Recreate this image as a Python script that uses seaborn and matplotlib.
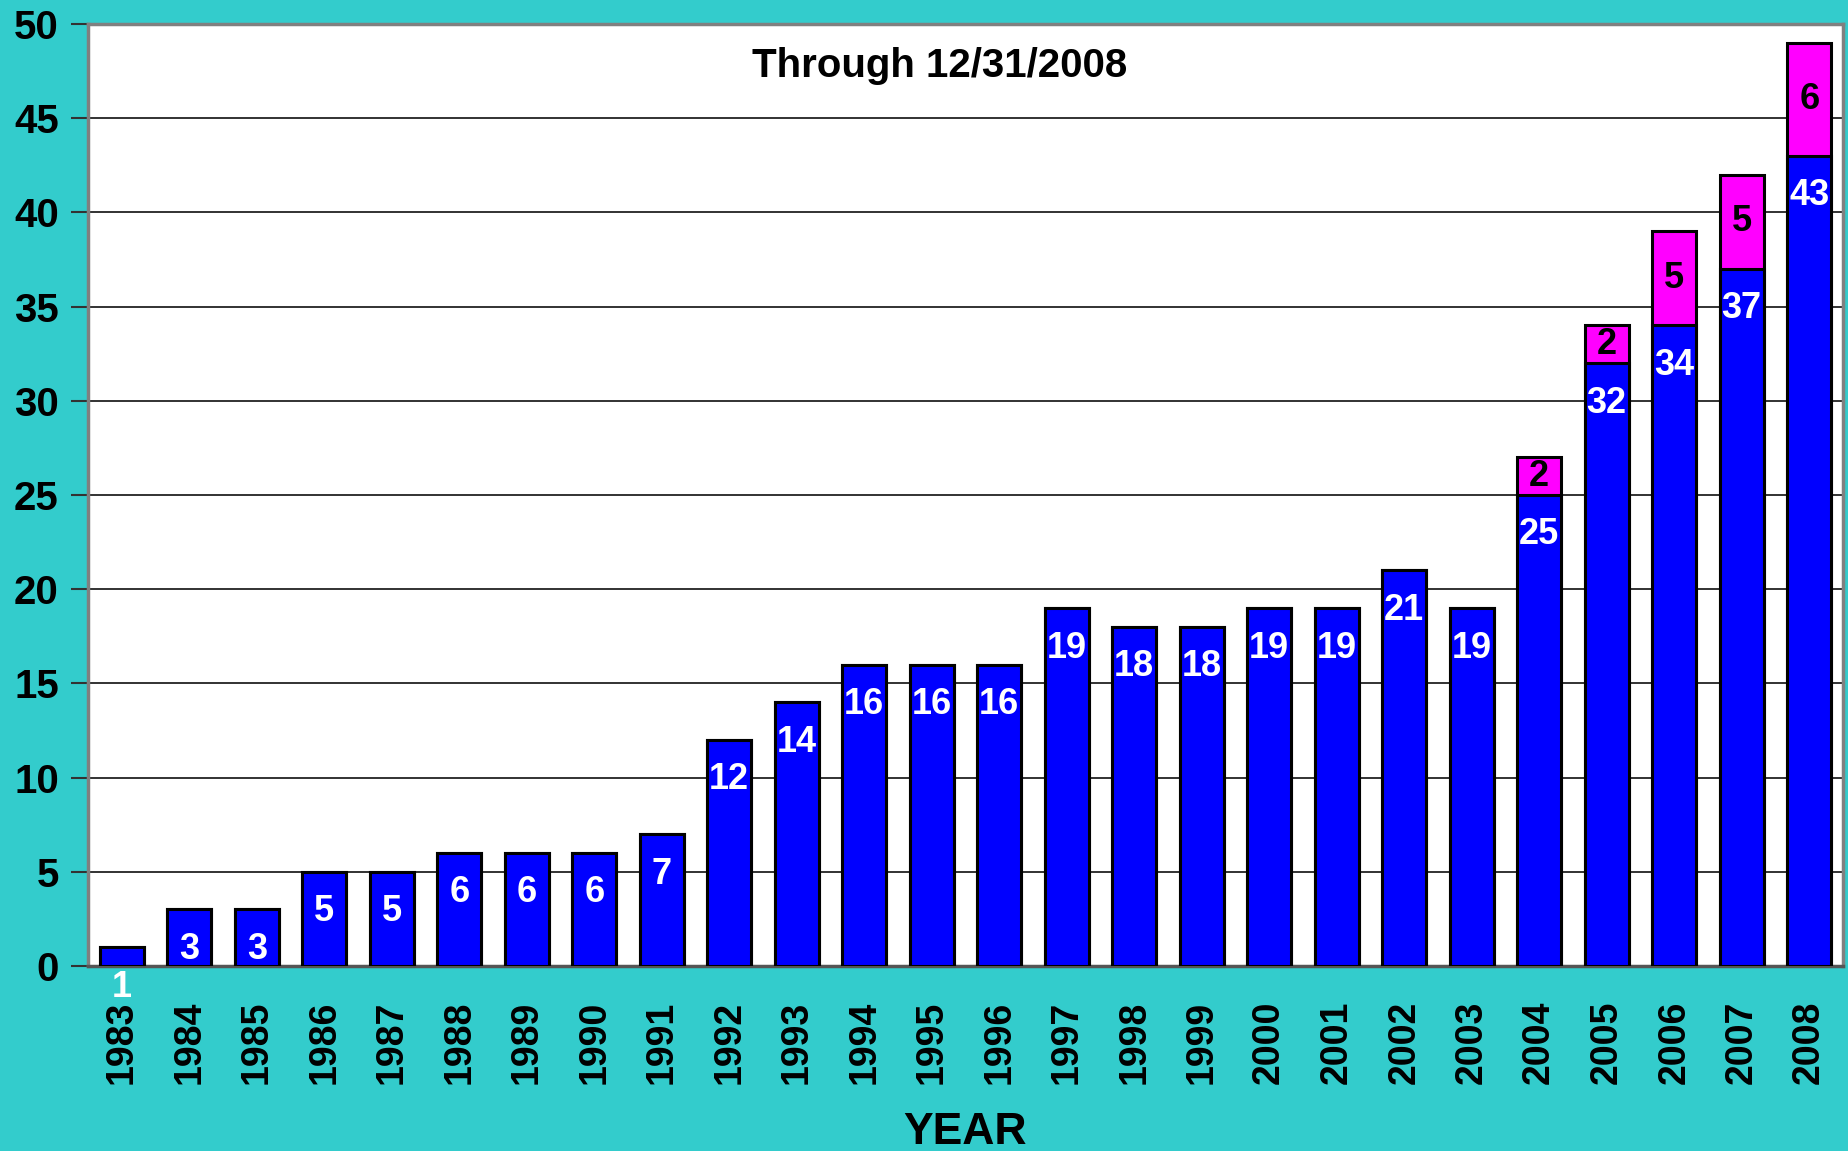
import numpy as np
import pandas as pd
import seaborn as sns
import matplotlib.pyplot as plt

# data
years = [str(y) for y in range(1983, 2009)]
blue_counts = [1, 3, 3, 5, 5, 6, 6, 6, 7, 12, 14, 16, 16, 16, 19, 18, 18, 19, 19, 21, 19, 25, 32, 34, 37, 43]
pink_counts = [0, 0, 0, 0, 0, 0, 0, 0, 0, 0, 0, 0, 0, 0, 0, 0, 0, 0, 0, 0, 0, 2, 2, 5, 5, 6]
y_ticks = list(range(0, 55, 5))
title_text = "Through 12/31/2008"
x_title = "YEAR"

df = pd.DataFrame({"Year": years, "Blue": blue_counts, "Pink": pink_counts})
df["Total"] = df["Blue"] + df["Pink"]

sns.set_style("white")
plt.rcParams['font.family'] = ['Liberation Sans', 'DejaVu Sans']
plt.rcParams['font.weight'] = 'bold'
plt.rcParams['text.color'] = 'black'
plt.rcParams['axes.labelcolor'] = 'black'
plt.rcParams['xtick.color'] = 'black'
plt.rcParams['ytick.color'] = 'black'

teal = "#33CCCC"
fig = plt.figure(figsize=(18.49, 11.51), dpi=100, facecolor=teal)
ax = fig.add_axes([88 / 1849, (1151 - 966) / 1151, (1843 - 88) / 1849, (966 - 24) / 1151])
ax.set_facecolor("white")

# stacked bars: total in magenta first, blue drawn over it
sns.barplot(data=df, x="Year", y="Total", order=years, color="#FF00FF", width=0.65,
            edgecolor="black", linewidth=2.2, saturation=1, ax=ax, zorder=3)
sns.barplot(data=df, x="Year", y="Blue", order=years, color="#0000FF", width=0.65,
            edgecolor="black", linewidth=2.2, saturation=1, ax=ax, zorder=4)

# labels on bars
for i, row in df.iterrows():
    ax.annotate(str(row["Blue"]), xy=(i, row["Blue"]), xytext=(0, -40),
                textcoords="offset pixels", ha="center", va="center",
                color="white", fontsize=26, fontweight="bold", zorder=6,
                annotation_clip=False)
    if row["Pink"] > 0:
        ax.text(i, row["Blue"] + row["Pink"] / 2, str(row["Pink"]), ha="center", va="center",
                color="black", fontsize=26, fontweight="bold", zorder=6)

ax.set_xlim(-0.5, len(years) - 0.5)
ax.set_ylim(0, 50)
ax.set_yticks(y_ticks)
ax.set_yticklabels([str(t) for t in y_ticks], fontsize=29, fontweight="bold")
ax.yaxis.grid(True, color="#222222", linewidth=1.3, zorder=0)
ax.set_axisbelow(True)

ax.set_xticks(range(len(years)))
ax.set_xticklabels(years, rotation=90, fontsize=27, fontweight="bold")
ax.set_xticks(np.arange(-0.5, len(years), 1), minor=True)
ax.tick_params(axis="x", which="major", length=0, pad=25, labelcolor="black")
ax.tick_params(axis="x", which="minor", length=12, width=1.5, color="#333333", direction="out")
ax.tick_params(axis="y", length=12, width=1.5, color="#333333", direction="out", pad=9,
               left=True, labelcolor="black")

for side, sp in ax.spines.items():
    sp.set_visible(True)
    sp.set_color("#808080")
    sp.set_linewidth(2.5)
ax.spines["bottom"].set_color("#555555")

ax.set_ylabel("")
ax.set_xlabel(x_title, fontsize=32, fontweight="bold", labelpad=20, color="black")
ax.text(0.485, 0.955, title_text, transform=ax.transAxes, ha="center", va="center",
        fontsize=29, fontweight="bold", color="black")

fig.savefig("out.png", dpi=100, facecolor=teal)
